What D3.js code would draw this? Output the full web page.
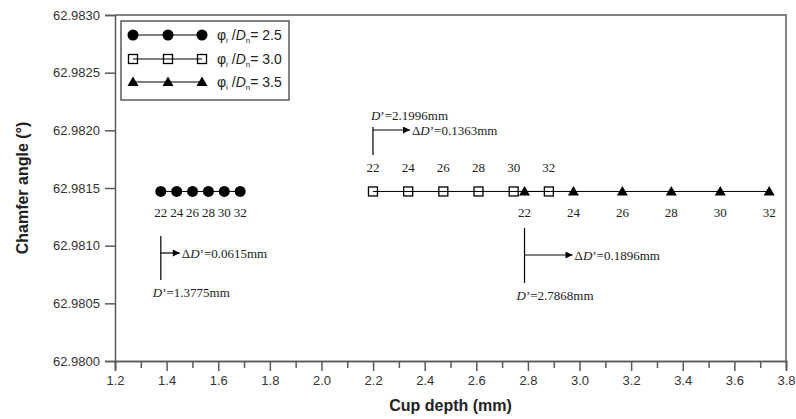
<!DOCTYPE html>
<html>
<head>
<meta charset="utf-8">
<script src="https://cdn.jsdelivr.net/npm/d3@7"></script>
<style>
  body { margin: 0; background: #fff; }
  svg { display: block; }
</style>
</head>
<body>
<svg id="chart" width="796" height="419"></svg>
<script>
// depth values for each ratio, keyed by 22..32
const labels = [22, 24, 26, 28, 30, 32];
const depth25 = [1.3775, 1.4390, 1.5005, 1.5620, 1.6235, 1.6850];
const depth30 = [2.1996, 2.3359, 2.4722, 2.6085, 2.7448, 2.8811];
const depth35 = [2.7868, 2.9764, 3.1660, 3.3556, 3.5452, 3.7348];
const angle = 62.98147;
const ratios = ["2.5", "3.0", "3.5"];
const xTicks = [1.2, 1.4, 1.6, 1.8, 2.0, 2.2, 2.4, 2.6, 2.8, 3.0, 3.2, 3.4, 3.6, 3.8];
const yTicks = [62.9800, 62.9805, 62.9810, 62.9815, 62.9820, 62.9825, 62.9830];
const notes = [
  { d: "1.3775", dd: "0.0615" },
  { d: "2.1996", dd: "0.1363" },
  { d: "2.7868", dd: "0.1896" }
];

const svg = d3.select("#chart");
const plotLeft = 115, plotRight = 786, plotTop = 15, plotBottom = 361;
const axisGrey = "#5a5a5a";
const sans = "'Liberation Sans', Arial, sans-serif";
const serif = "'Liberation Serif', 'Times New Roman', serif";

const x = d3.scaleLinear().domain([1.2, 3.8]).range([plotLeft, plotRight]);
const y = d3.scaleLinear().domain([62.98, 62.983]).range([plotBottom, plotTop]);

// frame top + right
svg.append("path")
   .attr("d", `M${plotLeft},${plotTop}H${plotRight}V${plotBottom}`)
   .attr("fill", "none")
   .attr("stroke", axisGrey)
   .attr("stroke-width", 1.5);

let xAxis = d3.axisBottom(x).tickValues(xTicks).tickFormat(d3.format(".1f")).tickSize(10).tickPadding(5);
let xMinor = d3.axisBottom(x).tickValues(d3.range(1.3, 3.8, 0.2)).tickFormat("").tickSize(7);
let yAxis = d3.axisLeft(y).tickValues(yTicks).tickFormat(d3.format(".4f")).tickSize(10).tickPadding(5);

let styleAxis = (g) => {
  g.select(".domain").attr("stroke", axisGrey).attr("stroke-width", 1.5);
  g.selectAll(".tick line").attr("stroke", axisGrey).attr("stroke-width", 1.5);
  g.selectAll(".tick text").attr("fill", "#333").style("font-family", sans).style("font-size", "13px");
};

svg.append("g").attr("transform", `translate(0,${plotBottom})`).call(xMinor).call(styleAxis);
svg.append("g").attr("transform", `translate(0,${plotBottom})`).call(xAxis).call(styleAxis);
svg.append("g").attr("transform", `translate(${plotLeft},0)`).call(yAxis).call(styleAxis);

// axis titles
svg.append("text")
   .attr("x", (plotLeft + plotRight) / 2)
   .attr("y", 411)
   .attr("text-anchor", "middle")
   .style("font-family", sans).style("font-size", "16px").style("font-weight", "bold")
   .attr("fill", "#222")
   .text("Cup depth (mm)");

svg.append("text")
   .attr("transform", `translate(28,${(plotTop + plotBottom) / 2}) rotate(-90)`)
   .attr("text-anchor", "middle")
   .style("font-family", sans).style("font-size", "16px").style("font-weight", "bold")
   .attr("fill", "#222")
   .text("Chamfer angle (°)");

// marker drawers
let circle = (g, cx, cy) => g.append("circle").attr("cx", cx).attr("cy", cy).attr("r", 5.5).attr("fill", "#000");
let square = (g, cx, cy) => g.append("rect").attr("x", cx - 4.5).attr("y", cy - 4.5)
                                 .attr("width", 9).attr("height", 9)
                                 .attr("fill", "none").attr("stroke", "#000").attr("stroke-width", 1.3);
let triangle = (g, cx, cy) => g.append("path")
                                 .attr("d", `M${cx},${cy - 5.5}L${cx + 5.5},${cy + 4}L${cx - 5.5},${cy + 4}Z`)
                                 .attr("fill", "#000");

const series = [
  { values: depth25, marker: circle, labelDy: 21 },
  { values: depth30, marker: square, labelDy: -24 },
  { values: depth35, marker: triangle, labelDy: 21 }
];

let drawSeries = (s) => {
  let g = svg.append("g");
  g.append("line")
   .attr("x1", x(s.values[0])).attr("x2", x(s.values[s.values.length - 1]))
   .attr("y1", y(angle)).attr("y2", y(angle))
   .attr("stroke", "#000").attr("stroke-width", 1);
  s.values.forEach((v) => s.marker(g, x(v), y(angle)));
  g.selectAll("text.pt")
   .data(s.values)
   .enter()
   .append("text")
   .attr("class", "pt")
   .attr("x", (d) => x(d))
   .attr("y", y(angle) + s.labelDy)
   .attr("dy", ".35em")
   .attr("text-anchor", "middle")
   .style("font-family", serif).style("font-size", "13px")
   .attr("fill", "#222")
   .text((d, i) => labels[i]);
};
series.forEach(drawSeries);

// annotations
svg.append("defs").append("marker")
   .attr("id", "arrow")
   .attr("viewBox", "0 0 10 10")
   .attr("refX", 10).attr("refY", 5)
   .attr("markerWidth", 9).attr("markerHeight", 7)
   .attr("markerUnits", "userSpaceOnUse")
   .attr("orient", "auto")
   .append("path").attr("d", "M0,0L10,5L0,10Z").attr("fill", "#000");

let deltaText = (g, tx, ty, note) => {
  let t = g.append("text").attr("x", tx).attr("y", ty).attr("dy", ".35em")
           .style("font-family", serif).style("font-size", "13px").attr("fill", "#222");
  t.append("tspan").text("Δ");
  t.append("tspan").style("font-style", "italic").text("D");
  t.append("tspan").text(`’=${note.dd}mm`);
};

let depthText = (g, tx, ty, note) => {
  let t = g.append("text").attr("x", tx).attr("y", ty).attr("dy", ".35em")
           .style("font-family", serif).style("font-size", "13px").attr("fill", "#222");
  t.append("tspan").style("font-style", "italic").text("D");
  t.append("tspan").text(`’=${note.d}mm`);
};

let annotate = (xv, lineTop, lineBottom, arrowY, arrowLen, dLabelX, dLabelY, note) => {
  let g = svg.append("g");
  let px = x(xv);
  g.append("line").attr("x1", px).attr("x2", px).attr("y1", lineTop).attr("y2", lineBottom)
   .attr("stroke", "#000").attr("stroke-width", 1.2);
  g.append("line").attr("x1", px).attr("x2", px + arrowLen).attr("y1", arrowY).attr("y2", arrowY)
   .attr("stroke", "#000").attr("stroke-width", 1.2).attr("marker-end", "url(#arrow)");
  deltaText(g, px + arrowLen + 2, arrowY, note);
  depthText(g, px + dLabelX, dLabelY, note);
};

annotate(depth25[0], 236, 280, 253, 19, -8, 292, notes[0]);
annotate(depth30[0], 127, 155, 130, 37, -2, 115, notes[1]);
annotate(depth35[0], 228, 283, 255, 48, -8, 295, notes[2]);

// legend
let legend = svg.append("g");
legend.append("rect").attr("x", 121).attr("y", 21).attr("width", 168).attr("height", 79)
      .attr("fill", "#fff").attr("stroke", axisGrey).attr("stroke-width", 1.5);
const legendMarkers = [circle, square, triangle];
const legendRowY = [35, 59, 82];
ratios.forEach((r, i) => {
  let ry = legendRowY[i];
  legend.append("line").attr("x1", 133).attr("x2", 202).attr("y1", ry).attr("y2", ry)
        .attr("stroke", "#000").attr("stroke-width", 1);
  [133, 168, 202].forEach((mx) => legendMarkers[i](legend, mx, ry));
  let t = legend.append("text").attr("x", 217).attr("y", ry).attr("dy", ".35em")
                .style("font-family", sans).style("font-size", "14px").attr("fill", "#222");
  t.append("tspan").text("φ");
  t.append("tspan").attr("dy", 3).style("font-size", "8px").text("i");
  t.append("tspan").attr("dy", -3).text(" /");
  t.append("tspan").style("font-style", "italic").text("D");
  t.append("tspan").attr("dy", 3).style("font-size", "8px").text("n");
  t.append("tspan").attr("dy", -3).text(`= ${r}`);
});
</script>
</body>
</html>
